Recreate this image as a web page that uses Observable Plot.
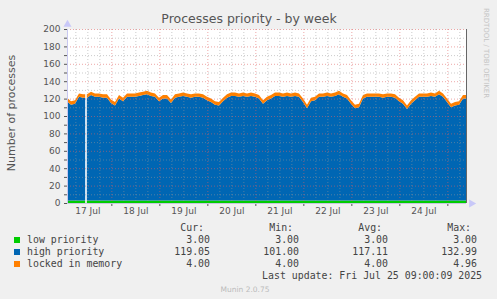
<!DOCTYPE html>
<html><head><meta charset="utf-8">
<script src="https://cdn.jsdelivr.net/npm/d3@7"></script>
<script src="https://cdn.jsdelivr.net/npm/@observablehq/plot@0.6"></script>
<style>
html,body{margin:0;padding:0;background:#f0f0f0;}
#wrap{position:relative;width:497px;height:299px;overflow:hidden;background:#f0f0f0;font-family:"DejaVu Sans",sans-serif;}
#chart{position:absolute;left:0;top:0;}
.t{position:absolute;white-space:pre;line-height:1;}
.mono{font-family:"DejaVu Sans Mono",monospace;font-size:9.9px;color:#444;}
</style></head><body><div id="wrap"><div id="chart"></div></div>
<script>
const title = "Processes priority - by week";
const yLabel = "Number of processes";
const sideText = "RRDTOOL / TOBI OETIKER";
const footer = "Munin 2.0.75";
const lastUpdate = "Last update: Fri Jul 25 09:00:09 2025";

// time window (UTC) and sampling of the series
const startTime = Date.UTC(2025, 6, 17, 1, 50);
const endTime = Date.UTC(2025, 6, 25, 9, 20);
const stepHours = 2;

// high priority processes, one value every 2 hours from startTime
const highPriority = [
  114,110,111,119,118,118,121,119,119,118,
  118,112,109,117,114,119,119,119,120,121,
  122,120,119,114,117,117,112,118,119,120,
  119,118,119,119,118,115,113,110,109,114,
  118,120,120,119,120,119,120,119,117,111,
  115,117,120,120,119,120,119,120,119,113,
  106,114,115,119,119,120,119,120,122,119,
  117,111,106,107,117,119,119,119,119,118,
  119,119,118,114,111,105,111,115,119,119,
  119,120,119,122,119,113,107,109,110,117,
  117
];
const lowPriority = 3;      // constant over the week (cur/min/avg/max 3.00)
const lockedInMemory = 4;   // constant over the week (avg 4.00)
const gapTimes = [new Date(Date.UTC(2025, 6, 17, 11, 5))]; // missing sample

const dayLabels = ["17 Jul","18 Jul","19 Jul","20 Jul","21 Jul","22 Jul","23 Jul","24 Jul"];
const dayNoons = dayLabels.map((_, i) => new Date(Date.UTC(2025, 6, 17 + i, 12)));
const midnights = d3.range(1, 9).map(i => new Date(Date.UTC(2025, 6, 17 + i)));
const sixHours = d3.utcHour.every(6).range(new Date(startTime), new Date(endTime)).filter(d => d.getUTCHours() !== 0);

const yMajor = d3.range(20, 201, 20);
const yMinor = d3.range(10, 200, 20);

const seriesNames = ["low priority", "high priority", "locked in memory"];
const seriesColors = ["#00cc00", "#0066b3", "#ff8000"];
const statHeaders = ["Cur:", "Min:", "Avg:", "Max:"];
const statValues = [
  ["3.00", "3.00", "3.00", "3.00"],
  ["119.05", "101.00", "117.11", "132.99"],
  ["4.00", "4.00", "4.00", "4.96"]
];

const data = highPriority.map((h, i) => ({
  t: new Date(startTime + i * stepHours * 3600e3),
  low: lowPriority, high: h, locked: lockedInMemory
}));

const dotted = "1,2";
const plot = Plot.plot({
  width: 497, height: 225,
  marginLeft: 67, marginRight: 31, marginTop: 29, marginBottom: 22,
  style: {background: "transparent", fontFamily: "DejaVu Sans", fontSize: "9px", color: "#555", overflow: "visible"},
  x: {type: "utc", domain: [new Date(startTime), new Date(endTime)], ticks: midnights, tickSize: 3, tickFormat: () => "", label: null},
  y: {domain: [0, 200], ticks: d3.range(0, 201, 10), tickFormat: d => d % 20 ? "" : d, tickSize: 3, tickPadding: 4, label: null},
  marks: [
    Plot.frame({fill: "white", stroke: null}),
    Plot.areaY(data, {x: "t", y1: 0, y2: d => d.low, fill: seriesColors[0], clip: true}),
    Plot.areaY(data, {x: "t", y1: d => d.low, y2: d => d.low + d.high, fill: seriesColors[1], clip: true}),
    Plot.areaY(data, {x: "t", y1: d => d.low + d.high, y2: d => d.low + d.high + d.locked, fill: seriesColors[2], clip: true}),
    Plot.ruleX(gapTimes, {stroke: "white", strokeWidth: 1.6}),
    Plot.ruleY(yMinor, {stroke: "#999", strokeOpacity: 0.5, strokeDasharray: dotted}),
    Plot.ruleY(yMajor, {stroke: "#e06060", strokeOpacity: 0.55, strokeDasharray: dotted}),
    Plot.ruleX(sixHours, {stroke: "#999", strokeOpacity: 0.5, strokeDasharray: dotted}),
    Plot.ruleX(midnights, {stroke: "#e06060", strokeOpacity: 0.55, strokeDasharray: dotted}),
    Plot.ruleY([0], {stroke: "#c8c8e0"}),
    Plot.ruleX([new Date(startTime)], {stroke: "#c8c8f0"}),
    Plot.ruleX([new Date(endTime)], {stroke: "#666"}),
    Plot.dot([0], {frameAnchor: "top-left", symbol: "triangle", r: 3, fill: "#c8c8f8", stroke: null, dy: -5}),
    Plot.dot([0], {frameAnchor: "bottom-right", symbol: "triangle", rotate: 90, r: 3, fill: "#c8c8f8", stroke: null, dx: 5}),
    Plot.text(dayNoons, {x: d => d, text: (d, i) => dayLabels[i], frameAnchor: "bottom", dy: 10, fill: "#555", fontSize: 9})
  ]
});
document.getElementById("chart").appendChild(plot);

const wrap = document.getElementById("wrap");
function put(text, x, y, anchor, css, cls) {
  const el = document.createElement("div");
  el.className = "t" + (cls ? " " + cls : "");
  el.textContent = text;
  el.style.left = x + "px";
  el.style.top = y + "px";
  const tx = anchor === "middle" ? "-50%" : anchor === "end" ? "-100%" : "0";
  el.style.transform = `translate(${tx},-50%)` + (css.rot ? ` rotate(${css.rot}deg)` : "");
  for (const k in css) if (k !== "rot") el.style[k] = css[k];
  wrap.appendChild(el);
  return el;
}
put(title, 249, 19, "middle", {fontSize: "12.5px", color: "#555"});
put(yLabel, 11, 113, "middle", {fontSize: "11px", color: "#555", rot: -90, transformOrigin: "50% 50%"}).style.transform = "translate(-50%,-50%) rotate(-90deg)";
put(sideText, 485, 53, "middle", {fontSize: "7px", color: "#c4c4c4"}).style.transform = "translate(-50%,-50%) rotate(90deg)";

const colRight = [210, 299, 388, 477];
statHeaders.forEach((h, j) => put(h + " ", colRight[j], 228, "end", {}, "mono"));
seriesNames.forEach((name, i) => {
  const y = 240 + i * 12;
  const sq = document.createElement("div");
  sq.style.cssText = `position:absolute;left:14px;top:${y - 3}px;width:6px;height:6px;background:${seriesColors[i]};`;
  wrap.appendChild(sq);
  put(name, 27, y, "start", {}, "mono");
  statValues[i].forEach((v, j) => put(v, colRight[j], y, "end", {}, "mono"));
});
put(lastUpdate + " ", 488, 276, "end", {}, "mono");
put(footer, 245, 290, "middle", {fontSize: "7.5px", color: "#bbb"});
</script></body></html>
